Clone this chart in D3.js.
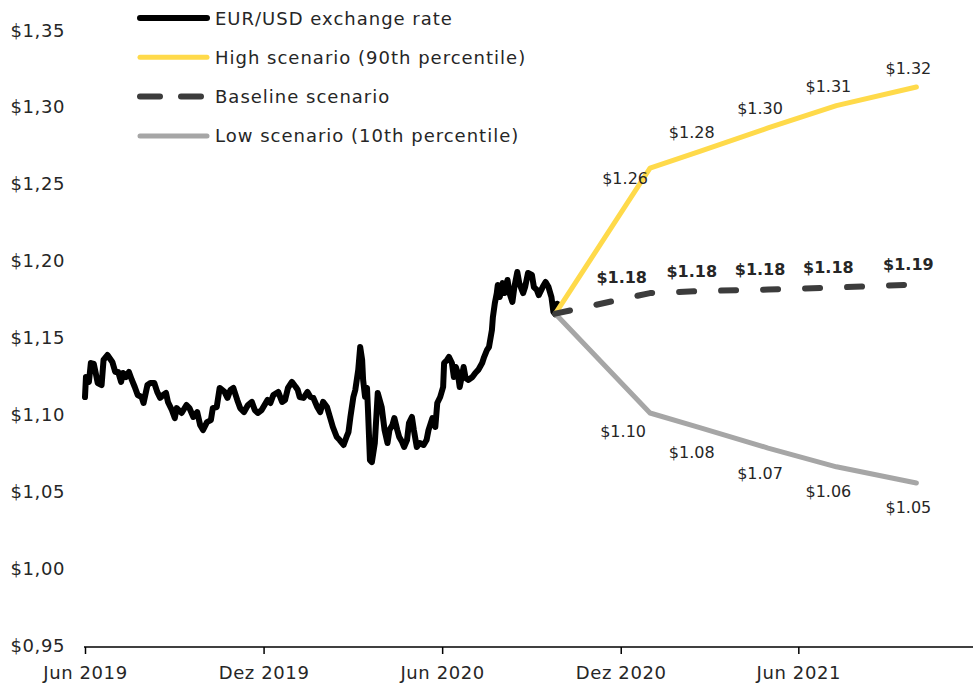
<!DOCTYPE html>
<html>
<head>
<meta charset="utf-8">
<script src="https://cdn.jsdelivr.net/npm/d3@7"></script>
<style>
  body { margin: 0; background: #fff; }
  svg text { font-family: "DejaVu Sans", sans-serif; fill: #262626; }
</style>
</head>
<body>
<svg id="chart" width="973" height="683"></svg>
<script>
// EUR/USD history
const histDates = ["2019-06-01","2019-06-02","2019-06-05","2019-06-07","2019-06-10","2019-06-12","2019-06-14","2019-06-18","2019-06-20","2019-06-24","2019-06-29","2019-07-02","2019-07-05","2019-07-08","2019-07-10","2019-07-13","2019-07-16","2019-07-19","2019-07-22","2019-07-25","2019-07-29","2019-07-31","2019-08-04","2019-08-07","2019-08-11","2019-08-14","2019-08-17","2019-08-20","2019-08-23","2019-08-25","2019-08-29","2019-09-01","2019-09-03","2019-09-08","2019-09-13","2019-09-16","2019-09-20","2019-09-24","2019-09-27","2019-09-30","2019-10-04","2019-10-08","2019-10-10","2019-10-14","2019-10-17","2019-10-22","2019-10-25","2019-10-28","2019-10-31","2019-11-04","2019-11-07","2019-11-11","2019-11-15","2019-11-19","2019-11-22","2019-11-25","2019-11-29","2019-12-05","2019-12-08","2019-12-11","2019-12-16","2019-12-20","2019-12-23","2019-12-26","2019-12-30","2020-01-03","2020-01-05","2020-01-07","2020-01-11","2020-01-15","2020-01-18","2020-01-21","2020-01-25","2020-01-28","2020-01-31","2020-02-04","2020-02-07","2020-02-10","2020-02-14","2020-02-17","2020-02-21","2020-02-24","2020-02-26","2020-02-28","2020-03-02","2020-03-04","2020-03-07","2020-03-09","2020-03-11","2020-03-12","2020-03-14","2020-03-16","2020-03-17","2020-03-19","2020-03-21","2020-03-24","2020-03-27","2020-03-31","2020-04-03","2020-04-06","2020-04-08","2020-04-11","2020-04-13","2020-04-16","2020-04-18","2020-04-21","2020-04-23","2020-04-26","2020-04-28","2020-05-01","2020-05-03","2020-05-06","2020-05-09","2020-05-13","2020-05-16","2020-05-18","2020-05-22","2020-05-25","2020-05-27","2020-05-30","2020-06-02","2020-06-03","2020-06-06","2020-06-08","2020-06-11","2020-06-13","2020-06-15","2020-06-17","2020-06-19","2020-06-23","2020-06-25","2020-06-28","2020-07-02","2020-07-05","2020-07-08","2020-07-12","2020-07-14","2020-07-17","2020-07-19","2020-07-22","2020-07-23","2020-07-25","2020-07-27","2020-07-28","2020-07-30","2020-08-02","2020-08-04","2020-08-07","2020-08-09","2020-08-12","2020-08-14","2020-08-17","2020-08-19","2020-08-23","2020-08-25","2020-08-28","2020-09-01","2020-09-03","2020-09-06","2020-09-08","2020-09-12","2020-09-15","2020-09-18","2020-09-21","2020-09-23","2020-09-25","2020-09-27"];
const histValues = [1.1113,1.1243,1.1211,1.1334,1.1328,1.1269,1.1204,1.1191,1.1354,1.1386,1.1341,1.1276,1.1276,1.1211,1.1269,1.1243,1.1276,1.1224,1.1178,1.1126,1.1113,1.1074,1.1191,1.1204,1.1204,1.1146,1.1107,1.1126,1.1139,1.1081,1.1028,1.0976,1.1041,1.1009,1.1061,1.1041,1.0983,1.1015,1.0931,1.0898,1.0950,1.0963,1.1041,1.1048,1.1172,1.1146,1.1107,1.1159,1.1172,1.1094,1.1041,1.1015,1.1061,1.1081,1.1028,1.1009,1.1028,1.1094,1.1074,1.1126,1.1146,1.1081,1.1094,1.1172,1.1211,1.1178,1.1159,1.1113,1.1107,1.1146,1.1113,1.1107,1.1048,1.1015,1.1081,1.1048,1.0983,1.0918,1.0853,1.0833,1.0801,1.0853,1.0885,1.0983,1.1113,1.1159,1.1289,1.1438,1.1354,1.1224,1.1113,1.1172,1.1028,1.0703,1.0690,1.0814,1.1139,1.1048,1.0898,1.0814,1.0898,1.0931,1.0976,1.0898,1.0853,1.0820,1.0788,1.0833,1.0944,1.0983,1.0898,1.0788,1.0814,1.0801,1.0833,1.0898,1.0976,1.0918,1.1074,1.1113,1.1178,1.1334,1.1354,1.1373,1.1334,1.1243,1.1308,1.1269,1.1178,1.1308,1.1237,1.1224,1.1243,1.1269,1.1289,1.1334,1.1373,1.1419,1.1438,1.1549,1.1633,1.1724,1.1789,1.1841,1.1763,1.1854,1.1789,1.1874,1.1789,1.1731,1.1828,1.1926,1.1854,1.1789,1.1828,1.1920,1.1907,1.1828,1.1809,1.1776,1.1828,1.1861,1.1828,1.1763,1.1666,1.1650,1.1720];

// scenarios: start point + forecast points
const scenDates = ["2020-09-25","2020-12-31","2021-02-20","2021-05-01","2021-07-10","2021-09-30"];
const highValues = [1.1655,1.2602,1.2710,1.2863,1.3008,1.3129];
const baseValues = [1.1655,1.1789,1.1802,1.1812,1.1825,1.1845];
const lowValues  = [1.1655,1.1009,1.0914,1.0781,1.0659,1.0554];
const highLabels = ["$1.26","$1.28","$1.30","$1.31","$1.32"];
const baseLabels = ["$1.18","$1.18","$1.18","$1.18","$1.19"];
const lowLabels  = ["$1.10","$1.08","$1.07","$1.06","$1.05"];

const yTicks = [0.95,1.00,1.05,1.10,1.15,1.20,1.25,1.30,1.35];
const xTickDates = ["2019-06-01","2019-12-01","2020-06-01","2020-12-01","2021-06-01"];
const xTickLabels = ["Jun 2019","Dez 2019","Jun 2020","Dez 2020","Jun 2021"];

const legendNames = ["EUR/USD exchange rate","High scenario (90th percentile)","Baseline scenario","Low scenario (10th percentile)"];

const parse = d3.utcParse("%Y-%m-%d");
const svg = d3.select("#chart");

const x = d3.scaleUtc().domain([parse("2019-06-01"), parse("2021-11-27")]).range([85, 973]);
const y = d3.scaleLinear().domain([0.95, 1.35]).range([645, 30]);

const styles = [
  {color:"#000000", width:6, dash:null},
  {color:"#FFDA4A", width:5, dash:null},
  {color:"#3C3C3C", width:6, dash:"15 27"},
  {color:"#A6A6A6", width:5, dash:null}
];

// y labels
svg.append("g").selectAll("text").data(yTicks).join("text")
  .attr("x", 65).attr("y", d => y(d))
  .attr("text-anchor", "end").attr("dominant-baseline", "central")
  .style("font-size", "18px").style("letter-spacing", "0.6px")
  .text(d => "$" + d.toFixed(2).replace(".", ","));

// x axis
const xAxis = svg.append("g").attr("transform", "translate(0,647)")
  .call(d3.axisBottom(x).tickValues(xTickDates.map(parse))
    .tickFormat((d, i) => xTickLabels[i]).tickSize(7).tickSizeOuter(0));
xAxis.select(".domain").attr("stroke", "#000").attr("stroke-width", 1.5).attr("d", "M84,0H973");
xAxis.selectAll(".tick line").attr("stroke", "#000").attr("stroke-width", 1.5);
xAxis.selectAll(".tick text").attr("dy", null).attr("y", 25).attr("dominant-baseline", "central")
  .style("font-size", "18px").style("letter-spacing", "0.6px")
  .style("font-family", "DejaVu Sans, sans-serif").attr("fill", "#262626");

const line = d3.line().x(d => x(d[0])).y(d => y(d[1]));
const sd = scenDates.map(parse);

const series = [
  {pts: histDates.map((d, i) => [parse(d), histValues[i]]), st: styles[0]},
  {pts: sd.map((d, i) => [d, highValues[i]]), st: styles[1]},
  {pts: sd.map((d, i) => [d, lowValues[i]]), st: styles[3]},
  {pts: sd.map((d, i) => [d, baseValues[i]]), st: styles[2]}
];

svg.append("g").selectAll("path").data(series).join("path")
  .attr("d", d => line(d.pts))
  .attr("fill", "none")
  .attr("stroke", d => d.st.color)
  .attr("stroke-width", d => d.st.width)
  .attr("stroke-linejoin", "round")
  .attr("stroke-linecap", "round")
  .attr("stroke-dasharray", d => d.st.dash);

// data labels
function labels(vals, texts, dy, firstDx, firstDy, bold) {
  const pts = sd.slice(1).map((d, i) => ({x: x(d), y: y(vals[i + 1]), t: texts[i]}));
  svg.append("g").selectAll("text").data(pts).join("text")
    .attr("x", (d, i) => i === 0 ? d.x + firstDx : d.x - 8)
    .attr("y", (d, i) => i === 0 ? d.y + firstDy : d.y + dy)
    .attr("text-anchor", (d, i) => i === 0 ? "end" : "middle")
    .attr("dominant-baseline", "central")
    .style("font-size", "16px")
    .style("font-weight", bold ? "bold" : "normal")
    .text(d => d.t);
}
labels(highValues, highLabels, -19, -2, 10, false);
labels(baseValues, baseLabels, -20, -3, -16, true);
labels(lowValues, lowLabels, 25, -4, 19, false);

// legend
const leg = svg.append("g").selectAll("g").data(legendNames).join("g")
  .attr("transform", (d, i) => `translate(0,${18 + i * 39.3})`);
leg.append("line")
  .attr("x1", 140).attr("x2", 207)
  .attr("stroke", (d, i) => styles[i].color)
  .attr("stroke-width", (d, i) => styles[i].width)
  .attr("stroke-linecap", "round")
  .attr("stroke-dasharray", (d, i) => styles[i].dash ? "20 21" : null);
leg.append("text").attr("x", 215).attr("dominant-baseline", "central")
  .style("font-size", "18px").style("letter-spacing", "1px").text(d => d);
</script>
</body>
</html>
